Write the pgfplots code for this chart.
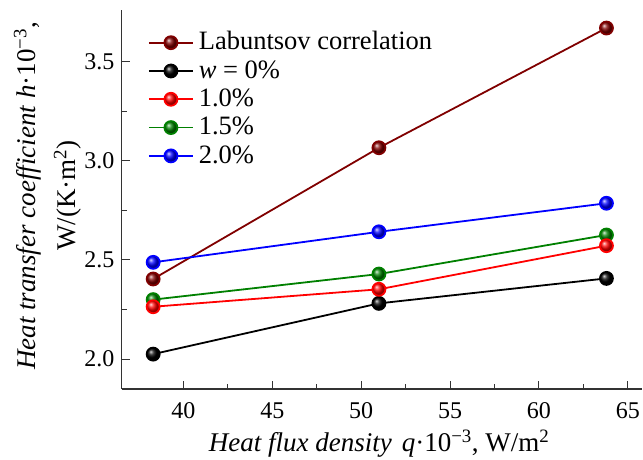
\documentclass[border=0pt]{standalone}
\usepackage{pgfplots}
\pgfplotsset{compat=1.18}
\usepackage{fontspec}
\setmainfont{Liberation Serif}
\definecolor{maroonc}{RGB}{128,0,0}
\definecolor{greenc}{RGB}{0,128,0}
\begin{document}
\begin{tikzpicture}
\path[use as bounding box] (-121.7pt,-70pt) rectangle (521.3pt,389pt);
\begin{axis}[
  at={(0pt,0pt)}, anchor=south west,
  scale only axis,
  width=520.3pt, height=379pt,
  xmin=36.53, xmax=65.8, ymin=1.849, ymax=3.761,
  axis x line=bottom, axis y line=left,
  axis line style={-, line width=1.3pt, color=black!80},
  tick style={line width=1pt, color=black!80},
  tick align=inside,
  major tick length=8pt, minor tick length=5pt,
  xtick={40,45,50,55,60,65},
  ytick={2.0,2.5,3.0,3.5},
  minor x tick num=1, minor y tick num=1,
  /pgf/number format/assume math mode=true,
  yticklabel style={/pgf/number format/fixed, /pgf/number format/fixed zerofill, /pgf/number format/precision=1, xshift=-3.7pt},
  ticklabel style={font=\fontsize{24}{26}\selectfont},
  xticklabel style={yshift=-10pt},
  label style={font=\fontsize{27}{40}\selectfont},
  xlabel={\textit{Heat flux density}\hspace{10pt}\textit{q}·10\textsuperscript{−3}, W/m\textsuperscript{2}},
  xlabel style={at={(axis description cs:0.4947,-0.165)}, anchor=base},
  ylabel={\textit{Heat transfer coefficient} \textit{h}·10\textsuperscript{−3},\\W/(K·m\textsuperscript{2})},
  ylabel style={at={(axis description cs:-0.1425,0.51)}, anchor=center, rotate=0, align=center},
  legend style={draw=none, fill=none, inner sep=0pt, outer sep=0pt,
    at={(axis description cs:0.0506,0.9511)}, anchor=north west,
    font=\fontsize{26.5}{28}\selectfont, row sep=0pt,
    nodes={inner sep=0pt, text height=21.45pt, text depth=6.85pt},
    /tikz/every odd column/.append style={column sep=5pt}},
  legend cell align=left,
  legend image code/.code={\draw[mark repeat=2,mark phase=2] plot coordinates {(0pt,0pt) (22pt,0pt) (44pt,0pt)};},
  every axis plot/.append style={line width=1.8pt, mark=ball, mark size=6.5pt},
]
\addlegendimage{color=maroonc, line width=1.8pt, mark=ball, mark size=6.5pt, mark options={ball color=maroonc}}
\addlegendentry{Labuntsov correlation}
\addlegendimage{color=black, line width=1.8pt, mark=ball, mark size=6.5pt, mark options={ball color=black}}
\addlegendentry{\textit{w} = 0\%}
\addlegendimage{color=red, line width=1.8pt, mark=ball, mark size=6.5pt, mark options={ball color=red}}
\addlegendentry{1.0\%}
\addlegendimage{color=greenc, line width=1.8pt, mark=ball, mark size=6.5pt, mark options={ball color=greenc}}
\addlegendentry{1.5\%}
\addlegendimage{color=blue, line width=1.8pt, mark=ball, mark size=6.5pt, mark options={ball color=blue}}
\addlegendentry{2.0\%}
\addplot[forget plot, color=maroonc, mark options={ball color=maroonc}] coordinates {(38.3,2.404) (51.0,3.066) (63.8,3.670)};
\addplot[forget plot, color=black, mark options={ball color=black}] coordinates {(38.3,2.025) (51.0,2.281) (63.8,2.407)};
\addplot[forget plot, color=greenc, mark options={ball color=greenc}] coordinates {(38.3,2.300) (51.0,2.429) (63.8,2.626)};
\addplot[forget plot, color=red, mark options={ball color=red}] coordinates {(38.3,2.264) (51.0,2.352) (63.8,2.572)};
\addplot[forget plot, color=blue, mark options={ball color=blue}] coordinates {(38.3,2.488) (51.0,2.642) (63.8,2.786)};
\end{axis}
\end{tikzpicture}
\end{document}
